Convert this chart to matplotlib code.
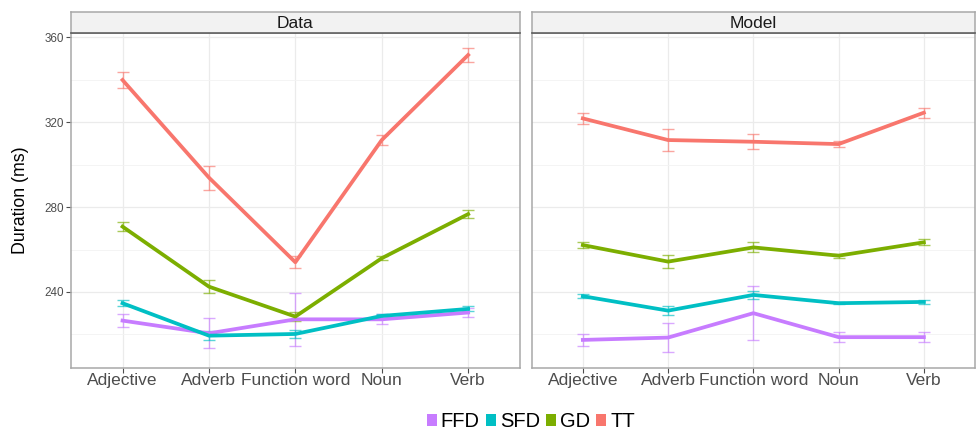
import matplotlib.pyplot as plt
from matplotlib.patches import Patch

plt.rcParams['font.family'] = ['Liberation Sans', 'DejaVu Sans']

categories = ['Adjective', 'Adverb', 'Function word', 'Noun', 'Verb']
measures = ['FFD', 'SFD', 'GD', 'TT']
colors = {'FFD': '#C77CFF', 'SFD': '#00BFC4', 'GD': '#7CAE00', 'TT': '#F8766D'}

# Data panel: means and error half-widths
data_mean = {
    'TT':  [339.9, 293.9, 254.0, 311.6, 351.7],
    'GD':  [270.8, 242.5, 228.4, 255.9, 276.7],
    'SFD': [234.7, 219.4, 220.2, 228.7, 232.0],
    'FFD': [226.5, 220.5, 227.1, 227.1, 230.3],
}
data_err = {
    'TT':  [3.7, 5.7, 2.8, 2.4, 3.5],
    'GD':  [2.2, 3.1, 2.0, 1.0, 2.0],
    'SFD': [1.3, 2.1, 2.0, 0.8, 1.2],
    'FFD': [3.1, 7.1, 12.6, 2.4, 2.1],
}

# Model panel
model_mean = {
    'TT':  [321.8, 311.6, 310.8, 309.7, 324.5],
    'GD':  [262.1, 254.3, 261.0, 257.1, 263.4],
    'SFD': [238.0, 231.2, 238.6, 234.7, 235.3],
    'FFD': [217.4, 218.5, 230.0, 218.7, 218.7],
}
model_err = {
    'TT':  [2.6, 5.2, 3.6, 1.6, 2.4],
    'GD':  [1.6, 3.1, 2.4, 1.0, 1.4],
    'SFD': [1.0, 2.0, 2.0, 0.5, 1.0],
    'FFD': [2.8, 6.8, 12.8, 2.4, 2.3],
}

panels = [('Data', data_mean, data_err), ('Model', model_mean, model_err)]

W, H = 976, 434
fig = plt.figure(figsize=(W / 100, H / 100), dpi=100)

panel_x = [(70.7, 520.0), (531.7, 975.0)]
top_px, bot_px, strip_top = 32.7, 367.7, 11.7

x = list(range(len(categories)))
for i, (title, means, errs) in enumerate(panels):
    x0, x1 = panel_x[i]
    ax = fig.add_axes([x0 / W, 1 - bot_px / H, (x1 - x0) / W, (bot_px - top_px) / H])
    ax.set_xlim(-0.6, 4.6)
    ax.set_ylim(204.3, 362.2)
    ax.set_yticks([240, 280, 320, 360])
    ax.set_yticks([220, 260, 300, 340], minor=True)
    ax.grid(True, which='major', color='#EBEBEB', linewidth=0.9)
    ax.grid(True, which='minor', axis='y', color='#F3F3F3', linewidth=0.6)
    ax.set_axisbelow(True)
    for s in ax.spines.values():
        s.set_color('#A8A8A8')
        s.set_linewidth(1.1)
    ax.set_xticks(x)
    ax.set_xticklabels(categories, fontsize=12.5, color='#4D4D4D')
    ax.tick_params(axis='x', length=3.5, color='#4D4D4D', pad=0.5)
    ax.tick_params(axis='y', which='major', length=3.5, color='#4D4D4D',
                   labelsize=8.4, labelcolor='#4D4D4D', pad=1.5)
    ax.tick_params(axis='y', which='minor', length=0)
    if i == 1:
        ax.tick_params(axis='y', which='major', length=0, labelleft=False)
    else:
        ax.set_ylabel('Duration (ms)', fontsize=12.8, labelpad=11)

    for m in ['FFD', 'SFD', 'GD', 'TT']:
        ax.errorbar(x, means[m], yerr=errs[m], fmt='none', ecolor=colors[m],
                    alpha=0.65, elinewidth=1.0, capsize=4, capthick=1.0, zorder=2)
        ax.plot(x, means[m], color=colors[m], linewidth=2.7, zorder=3,
                solid_joinstyle='round')

    # facet strip
    sx = fig.add_axes([x0 / W, 1 - top_px / H, (x1 - x0) / W, (top_px - strip_top) / H])
    sx.set_xticks([])
    sx.set_yticks([])
    sx.set_facecolor('#F2F2F2')
    for s in sx.spines.values():
        s.set_color('#A8A8A8')
        s.set_linewidth(1.1)
    sx.spines['bottom'].set_color('#555555')
    sx.text(0.5, 0.45, title, ha='center', va='center', fontsize=12.5,
            color='#1A1A1A', transform=sx.transAxes)

handles = [Patch(facecolor=colors[m], edgecolor='none', label=m) for m in measures]
fig.legend(handles=handles, loc='center', bbox_to_anchor=(531 / W, 1 - 421.5 / H),
           ncol=4, frameon=False, fontsize=14.5, handlelength=0.5, handleheight=0.5,
           handletextpad=0.2, columnspacing=0.3, borderpad=0)

fig.savefig('out.png', dpi=100)
